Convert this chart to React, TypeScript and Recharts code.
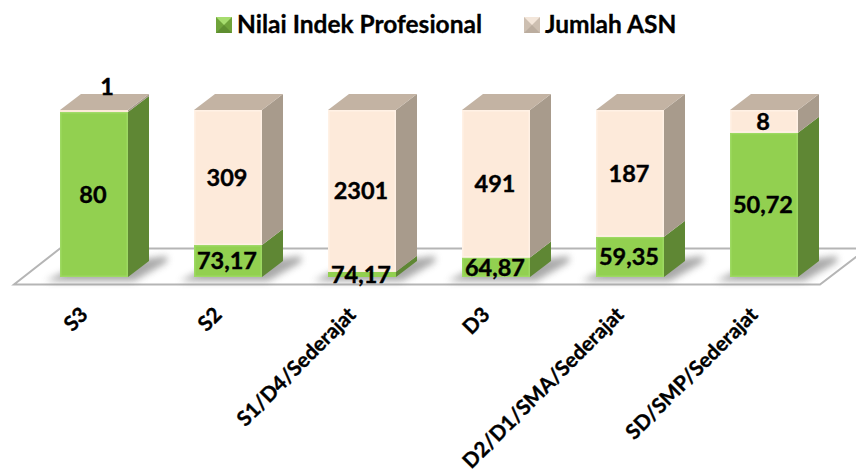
import React from "react";
import { BarChart, Bar, XAxis, YAxis, Legend, LabelList, ReferenceArea } from "recharts";

const categories = ["S3", "S2", "S1/D4/Sederajat", "D3", "D2/D1/SMA/Sederajat", "SD/SMP/Sederajat"];
const indexValues = [80, 73.17, 74.17, 64.87, 59.35, 50.72];
const asnValues = [1, 309, 2301, 491, 187, 8];
const seriesNames = ["Nilai Indek Profesional", "Jumlah ASN"];

const data = categories.map((name, i) => ({ name, index: indexValues[i], asn: asnValues[i] }));

const FONT = "Lato, 'Open Sans', sans-serif";
const DX = 21;
const DY = 16;

const pts = (a: number[][]) => a.map((p) => p.join(",")).join(" ");

const makeShape = (front: string, side: string, bevel: string, isTop: boolean) => (props: any) => {
  const { x, y, width: w, height: h } = props;
  return (
    <g>
      {!isTop && (
        <polygon
          points={pts([[x - 14, y + h + 4], [x + w + 6, y + h + 4], [x + w + DX + 18, y + h - DY + 1], [x + w + DX + 18, y + h - DY - 5], [x + 10, y + h - 8]])}
          fill="#6f6f6f"
          opacity={0.6}
          filter="url(#floorBlur)"
        />
      )}
      <polygon points={pts([[x + w, y + h], [x + w + DX, y + h - DY], [x + w + DX, y - DY], [x + w, y]])} fill={side} />
      {isTop && <polygon points={pts([[x, y], [x + DX, y - DY], [x + w + DX, y - DY], [x + w, y]])} fill="#C3B3A3" />}
      <rect x={x} y={y} width={w} height={h} fill={front} />
      {h > 6 && <rect x={x + 0.75} y={y + 0.75} width={w - 1.5} height={h - 1.5} fill="none" stroke={bevel} strokeWidth={1.5} />}
    </g>
  );
};

const GreenShape = makeShape("#92D050", "#5F8734", "#9DD962", false);
const PeachShape = makeShape("#FDEADA", "#A89B8C", "#FFF1E5", true);

const FloorShape = (props: any) => {
  const { x, y, width: w, height: h } = props;
  const base = y + h;
  return (
    <g>
      <defs>
        <filter id="floorBlur" x="-30%" y="-60%" width="160%" height="220%">
          <feGaussianBlur stdDeviation="3.5" />
        </filter>
      </defs>
      <polygon
        points={pts([[x - 13, base + 7.5], [x + w - 11, base + 7.5], [x + w + 36, base - 28.5], [x + 33, base - 28.5]])}
        fill="#fff"
        stroke="#B5B5B5"
        strokeWidth={2}
      />
    </g>
  );
};

const Tick = (props: any) => {
  const { x, y, payload } = props;
  return (
    <text
      x={x - 5}
      y={y + 31}
      textAnchor="end"
      transform={`rotate(-45 ${x - 5} ${y + 31})`}
      fontFamily={FONT}
      fontWeight={700}
      fontSize={20.8}
      stroke="#000"
      strokeWidth={0.35}
      fill="#000"
    >
      {payload.value}
    </text>
  );
};

const makeLabel = (shiftSmall: boolean) => (props: any) => {
  const { x, y, width: w, height: h, value } = props;
  const small = shiftSmall && h < 6;
  const cx = x + w / 2 + (small ? 13 : -1);
  const cy = small ? y - 23 : y + h / 2;
  return (
    <text x={cx} y={cy} dy="0.36em" textAnchor="middle" fontFamily={FONT} fontWeight={700} fontSize={23.5} stroke="#000" strokeWidth={0.4} fill="#000">
      {String(value).replace(".", ",")}
    </text>
  );
};

const markerColors = [
  ["#6FA33A", "#A6DC6E", "#5E8E30"],
  ["#CDBFB1", "#F3E6DA", "#BBAD9F"],
];

const LegendContent = (props: any) => {
  const items = props.payload || [];
  const lefts = [216, 524];
  return (
    <div style={{ position: "relative", height: 40 }}>
      {items.map((it: any, i: number) => {
        const c = markerColors[i];
        return (
          <div key={it.value} style={{ position: "absolute", left: lefts[i], top: 9, display: "flex", alignItems: "center", height: 30 }}>
            <svg width={16} height={16} style={{ marginRight: 5, marginTop: 2 }}>
              <rect width={16} height={16} fill={c[0]} />
              <polygon points="0,0 16,0 8,8" fill={c[1]} />
              <polygon points="0,16 16,16 8,8" fill={c[2]} />
            </svg>
            <span style={{ fontFamily: FONT, fontWeight: 700, fontSize: 24.5, color: "#000", whiteSpace: "nowrap", lineHeight: "30px", WebkitTextStroke: "0.3px #000" }}>{it.value}</span>
          </div>
        );
      })}
    </div>
  );
};

export default function App() {
  return (
    <div style={{ position: "absolute", left: 0, top: 0, width: 856, height: 476, background: "#fff" }}>
      <BarChart
        width={856}
        height={476}
        data={data}
        stackOffset="expand"
        barSize={68}
        margin={{ top: 70, left: 27, right: 25, bottom: 0 }}
      >
        <XAxis dataKey="name" axisLine={false} tickLine={false} interval={0} height={199} tick={<Tick />} />
        <YAxis hide domain={[0, 1]} />
        <Legend verticalAlign="top" height={40} itemSorter={null} content={<LegendContent />} wrapperStyle={{ left: 0, top: 0, width: 856 }} />
        <ReferenceArea x1={categories[0]} x2={categories[5]} y1={0} y2={0.1} shape={<FloorShape />} ifOverflow="visible" />
        <Bar dataKey="index" name={seriesNames[0]} stackId="a" shape={GreenShape} isAnimationActive={false}>
          <LabelList dataKey="index" content={makeLabel(false)} />
        </Bar>
        <Bar dataKey="asn" name={seriesNames[1]} stackId="a" shape={PeachShape} isAnimationActive={false}>
          <LabelList dataKey="asn" content={makeLabel(true)} />
        </Bar>
      </BarChart>
    </div>
  );
}
